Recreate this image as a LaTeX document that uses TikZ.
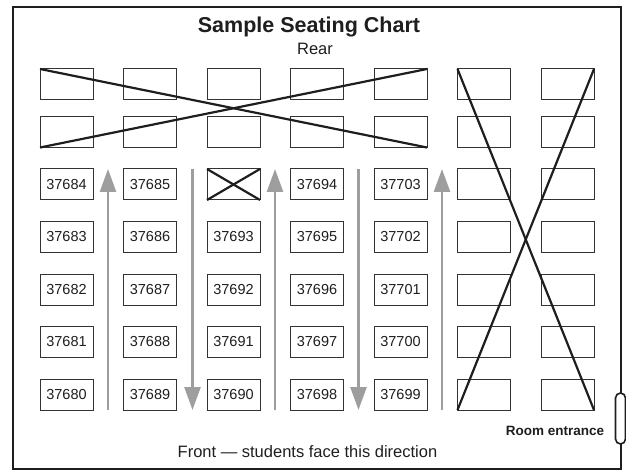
\documentclass[tikz,border=0pt]{standalone}
\usepackage{fontspec}
\setmainfont{Liberation Sans}
\usetikzlibrary{arrows.meta}
\definecolor{ink}{HTML}{1E1E1E}
\definecolor{deskline}{HTML}{333333}
\definecolor{aisle}{HTML}{9E9E9E}
\begin{document}
\begin{tikzpicture}[x=1pt,y=-1pt,
  desk/.style={draw=deskline, line width=1pt, minimum width=53pt, minimum height=31pt,
    anchor=north west, inner sep=0pt, outer sep=0pt},
  seatno/.style={font=\fontsize{14.5}{17}\selectfont, text=ink},
  cross/.style={draw=ink, line width=2.2pt},
  aislearrow/.style={draw=aisle, line width=2.6pt, -{Triangle[width=16pt,length=23pt]}},
  room/.style={draw=ink, line width=2.4pt},
  door/.style={draw=ink, line width=1.6pt, fill=white, rounded corners=5pt,
    minimum width=10pt, minimum height=51pt, inner sep=0pt}]
\useasboundingbox (0,0) rectangle (626,470);
\node[room, minimum width=608pt, minimum height=462pt, anchor=north west, inner sep=0pt] (frame) at (12,6) {};
% desks
\foreach \c/\x in {1/40,2/123.5,3/207,4/290.5,5/374,6/457.5,7/541}{
  \foreach \r/\y in {1/69,2/116.5,3/169,4/221.5,5/274,6/326.5,7/379}{
    \node[desk] (d\c\r) at (\x,\y) {};
  }
}
% seat numbers
\foreach \c/\lst in {1/{37684,37683,37682,37681,37680},2/{37685,37686,37687,37688,37689},
  3/{,37693,37692,37691,37690},4/{37694,37695,37696,37697,37698},5/{37703,37702,37701,37700,37699}}{
  \foreach \n [count=\i from 3] in \lst {
    \node[seatno] (t\c\i) at (d\c\i.center) {\n};
  }
}
% crosses
\draw[cross] (d11.north west) -- (d52.south east);
\draw[cross] (d12.south west) -- (d51.north east);
\draw[cross] (d61.north west) -- (d77.south east);
\draw[cross] (d71.north east) -- (d67.south west);
\draw[cross] (d33.north west) -- (d33.south east);
\draw[cross] (d33.south west) -- (d33.north east);
% aisles
\coordinate (a1b) at (108,410); \coordinate (a1t) at (108,169);
\coordinate (a2b) at (192.5,410); \coordinate (a2t) at (192.5,169);
\coordinate (a3b) at (275,410); \coordinate (a3t) at (275,169);
\coordinate (a4b) at (358.5,410); \coordinate (a4t) at (358.5,169);
\coordinate (a5b) at (442,410); \coordinate (a5t) at (442,169);
\draw[aislearrow] (a1b) -- (a1t);
\draw[aislearrow] (a2t) -- (a2b);
\draw[aislearrow] (a3b) -- (a3t);
\draw[aislearrow] (a4t) -- (a4b);
\draw[aislearrow] (a5b) -- (a5t);
% door
\node[door] (doorway) at (620.5,418.5) {};
% texts
\node[font=\bfseries\fontsize{21.5}{25}\selectfont, text=ink, anchor=base] (title) at (309,33) {Sample Seating Chart};
\node[font=\fontsize{16.5}{19}\selectfont, text=ink, anchor=base] (rear) at (315,55) {Rear};
\node[font=\fontsize{16.5}{19}\selectfont, text=ink, anchor=base] (front) at (307.5,457) {Front — students face this direction};
\node[font=\bfseries\fontsize{13.5}{16}\selectfont, text=ink, anchor=base] (entrance) at (555,435) {Room entrance};
\end{tikzpicture}
\end{document}
